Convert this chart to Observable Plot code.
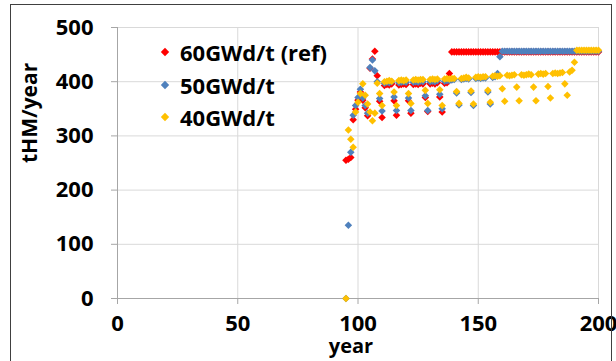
<!DOCTYPE html>
<html>
<head>
<meta charset="utf-8">
<script src="https://cdn.jsdelivr.net/npm/d3@7"></script>
<script src="https://cdn.jsdelivr.net/npm/@observablehq/plot@0.6"></script>
<style>
html,body{margin:0;padding:0;background:#fff;}
#wrap{position:relative;width:616px;height:361px;overflow:hidden;background:#fff;font-family:"Open Sans",sans-serif;font-weight:700;}
#border{position:absolute;left:10px;top:4px;width:602px;height:420px;border:1px solid #404040;box-sizing:border-box;pointer-events:none;}
#chart{position:absolute;left:0;top:0;}
.leg{position:absolute;left:0;top:0;}
.leg .row{position:absolute;left:158px;height:30px;display:flex;align-items:center;white-space:nowrap;}
.leg .row svg{width:14px;height:14px;margin-right:8px;}
.leg .row span{font-size:22px;font-weight:700;color:#000;line-height:30px;}
</style>
</head>
<body>
<div id="wrap">
  <div id="chart"></div>
  <div class="leg" id="legend"></div>
  <div id="border"></div>
</div>
<script>
// ---- data ----
const seriesNames = ["60GWd/t (ref)", "50GWd/t", "40GWd/t"];
const seriesColors = ["#ff0000", "#4f81bd", "#ffc000"];
const xTicks = [0, 50, 100, 150, 200];
const yTicks = [0, 100, 200, 300, 400, 500];
const xLabel = "year";
const yLabel = "tHM/year";

const years = [95,96,97,98,99,100,101,102,103,104,105,106,107,108,109,110,111,112,113,114,115,116,117,118,119,120,121,122,123,124,125,126,127,128,129,130,131,132,133,134,135,136,137,138,139,140,141,142,143,144,145,146,147,148,149,150,151,152,153,154,155,156,157,158,159,160,161,162,163,164,165,166,167,168,169,170,171,172,173,174,175,176,177,178,179,180,181,182,183,184,185,186,187,188,189,190,191,192,193,194,195,196,197,198,199,200];

const ref60 = [255,257,260,330,349,366,381,366,352,337,425,442,456,411,
  364,334,393,395,394,396,365,338,394,395,396,395,365,342,395,396,395,397,396,371,345,396,397,396,398,372,344,397,398,415,
  455,455,455,455,455,455,455,455,455,455,455,455,455,455,455,455,455,455,455,455,455,455,455,455,455,455,455,455,455,455,455,
  455,455,455,455,455,455,455,455,455,455,455,455,455,455,455,455,455,455,455,455,455,455,455,455,455,455,455,455,455,455,455];

const bu50 = [0,135,270,338,356,371,386,370,356,342,426,440,420,400,
  369,346,397,399,398,400,372,347,398,399,400,399,370,347,399,400,399,401,400,374,347,400,401,400,402,377,350,
  401,402,402,403,404,379,357,404,405,406,405,380,356,406,407,406,407,407,381,359,408,409,415,446,
  456,456,456,456,456,456,456,456,456,456,456,456,456,456,456,456,456,456,456,456,456,
  456,456,456,456,456,456,456,456,456,456,456,456,456,456,456,456,456,456,456,456];

const bu40 = [0,311,294,279,344,362,378,396,375,359,344,328,342,397,
  378,356,400,401,402,401,381,356,402,403,402,403,378,360,403,404,403,404,404,384,360,404,405,404,405,385,356,
  405,406,405,406,406,382,360,406,407,408,407,383,359,408,409,408,409,409,384,362,410,411,410,411,
  387,364,412,411,412,413,390,365,413,412,413,414,413,390,365,414,415,414,415,391,370,415,416,415,416,417,396,375,
  418,421,436,
  458,458,458,458,458,458,458,458,458,458];

const seriesValues = [ref60, bu50, bu40];

// ---- build table ----
const rows = [];
seriesValues.forEach((vals, s) => {
  years.forEach((yr, i) => {
    if (vals[i] != null) rows.push({year: yr, value: vals[i], series: seriesNames[s]});
  });
});

const axisColor = "#a6a6a6";
const gridColor = "#d9d9d9";

const chart = Plot.plot({
  width: 616,
  height: 361,
  marginLeft: 117,
  marginRight: 18,
  marginTop: 27,
  marginBottom: 63,
  style: {fontFamily: "'Open Sans', sans-serif", fontSize: "22px", fontWeight: "700", color: "#000", background: "transparent", overflow: "visible"},
  x: {domain: [0, 200]},
  y: {domain: [0, 500]},
  color: {domain: seriesNames, range: seriesColors},
  marks: [
    Plot.gridX(xTicks.slice(1), {stroke: gridColor, strokeOpacity: 1}),
    Plot.gridY(yTicks.slice(1), {stroke: gridColor, strokeOpacity: 1}),
    Plot.ruleX([0], {stroke: axisColor}),
    Plot.ruleY([0], {stroke: axisColor}),
    Plot.axisY(yTicks, {tickSize: 6, tickPadding: 18, stroke: axisColor, fill: "#000", label: null, tickFormat: d => String(d)}),
    Plot.axisX(xTicks, {tickSize: 6, tickPadding: 11, stroke: axisColor, fill: "#000", label: null, tickFormat: d => String(d)}),
    Plot.dot(rows, {x: "year", y: "value", fill: "series", symbol: "diamond2", r: 3.4}),
    Plot.text([yLabel], {frameAnchor: "left", dx: -87, rotate: -90, fontSize: 21, fontWeight: 700, fill: "#000"}),
    Plot.text([xLabel], {frameAnchor: "bottom", dx: -7, dy: 54, fontSize: 20, fontWeight: 700, fill: "#000"})
  ]
});
document.getElementById("chart").appendChild(chart);

// ---- legend (HTML) ----
const leg = document.getElementById("legend");
const rowTops = [37, 69.5, 102];
seriesNames.forEach((name, i) => {
  const r = document.createElement("div");
  r.className = "row";
  r.style.top = rowTops[i] + "px";
  r.innerHTML = `<svg viewBox="-7 -7 14 14"><path d="M0,-4.2L4.2,0L0,4.2L-4.2,0Z" fill="${seriesColors[i]}"/></svg><span>${name}</span>`;
  leg.appendChild(r);
});
</script>
</body>
</html>
